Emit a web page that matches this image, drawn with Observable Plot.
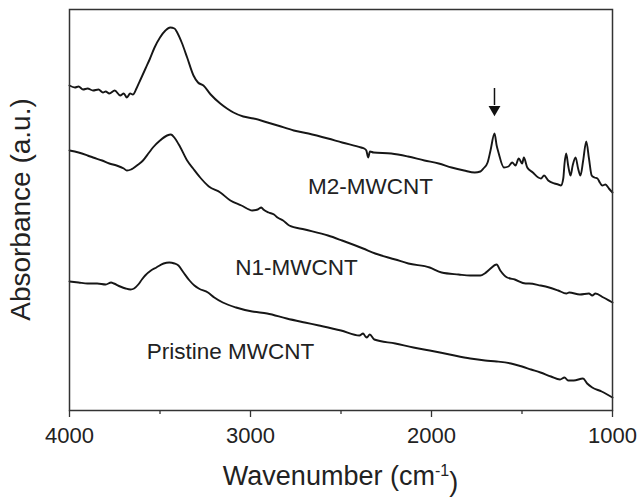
<!DOCTYPE html>
<html>
<head>
<meta charset="utf-8">
<script src="https://cdn.jsdelivr.net/npm/d3@7"></script>
<script src="https://cdn.jsdelivr.net/npm/@observablehq/plot@0.6"></script>
<style>
  html, body { margin: 0; padding: 0; background: #fff; }
  #chart { width: 640px; height: 498px; }
</style>
</head>
<body>
<div id="chart"></div>
<script>
// Series names
const seriesNames = ["M2-MWCNT", "N1-MWCNT", "Pristine MWCNT"];

// M2-MWCNT (wavenumber, absorbance a.u.)
const wnM2 = [4000,3970,3950,3925,3900,3870,3840,3815,3800,3780,3750,3720,3700,3683,3665,3650,3630,3610,3580,3555,3530,3500,3470,3444,3420,3405,3380,3350,3315,3290,3260,3220,3167,3130,3094,3040,2983,2906,2850,2761,2680,2572,2494,2389,2372,2360,2350,2340,2320,2222,2130,2039,1960,1889,1820,1761,1730,1713,1690,1674,1652,1640,1630,1600,1575,1554,1536,1518,1499,1490,1471,1440,1410,1395,1378,1355,1320,1300,1285,1272,1265,1256,1245,1232,1220,1204,1190,1177,1162,1145,1130,1115,1100,1083,1070,1056,1039,1020,1000];
const absM2 = [325,323,324,321,322,320,321,318,319,317,320,315,317,313,317,316,322,330,342,352,363,373,380,383,382,378,368,353,335,328,325,316,307,302,298,294,292,288,285,280,277,272,268,263,262,260,253,259,258,257,254,250,247,243,240,238,239,242,248,260,277,265,258,243,244,248,245,252,247,253,243,238,233,232,235,230,227,226,225,232,247,257,245,235,245,253,242,235,250,269,252,235,233,232,228,225,226,222,218];

// N1-MWCNT
const wnN1 = [4000,3950,3900,3870,3820,3780,3740,3700,3683,3660,3650,3620,3594,3560,3539,3500,3461,3440,3417,3390,3350,3317,3278,3230,3167,3111,3050,2990,2960,2940,2929,2900,2870,2851,2820,2786,2700,2572,2494,2378,2311,2200,2128,2010,1944,1850,1786,1730,1706,1680,1640,1620,1582,1540,1480,1461,1398,1350,1300,1255,1239,1180,1130,1112,1094,1050,1010,1000];
const absN1 = [260,258,255,253,250,247,245,242,240,241,242,246,250,258,263,270,275,276,272,264,250,242,233,224,218,210,205,200,201,203,201,198,196,193,190,185,181,175,170,162,157,151,147,143,138,136,135,135,137,141,146,140,133,131,127,127,125,123,120,117,118,116,117,115,117,113,109,108];

// Pristine MWCNT
const wnPristine = [4000,3950,3900,3847,3800,3770,3755,3720,3690,3663,3643,3620,3600,3582,3550,3520,3480,3449,3420,3398,3370,3337,3310,3286,3235,3200,3153,3080,2990,2908,2800,2700,2622,2500,2398,2378,2365,2357,2341,2316,2200,2100,2010,1900,1786,1704,1640,1561,1500,1450,1398,1340,1290,1265,1245,1214,1163,1140,1112,1060,1010,1000];
const absPristine = [129,128,127,127,126,128,127,124,122,121,122,126,131,135,140,143,147,148,147,145,138,130,125,122,118,113,108,103,99,97,92,88,85,80,75,77,74,73,76,71,67,63,60,56,52,50,49,47,44,41,38,34,31,33,30,30,32,27,23,19,14,13];

// Tick values
const majorTicks = [4000, 3000, 2000, 1000];
const minorTicks = [3500, 2500, 1500];

// Series labels (position in data units)
const labelText = ["M2-MWCNT", "N1-MWCNT", "Pristine MWCNT"];
const labelWn = [2337, 2746, 3110];
const labelAbs = [217, 136, 52];

// Arrow marking the peak near 1650 cm-1
const arrowWn = [1652];
const arrowTop = [322];
const arrowBottom = [305];
const arrowHead = [301];

const rows = [];
wnM2.forEach((w, i) => rows.push({series: seriesNames[0], wn: w, abs: absM2[i]}));
wnN1.forEach((w, i) => rows.push({series: seriesNames[1], wn: w, abs: absN1[i]}));
wnPristine.forEach((w, i) => rows.push({series: seriesNames[2], wn: w, abs: absPristine[i]}));

const labels = labelText.map((t, i) => ({text: t, wn: labelWn[i], abs: labelAbs[i]}));
const arrows = arrowWn.map((w, i) => ({wn: w, top: arrowTop[i], bottom: arrowBottom[i], head: arrowHead[i]}));

const font = "'Liberation Sans', Arial, Helvetica, sans-serif";

const chart = Plot.plot({
  width: 640,
  height: 498,
  marginLeft: 69,
  marginRight: 28,
  marginTop: 9,
  marginBottom: 88,
  style: {fontFamily: font, fontSize: "22px", color: "#222", background: "white"},
  x: {domain: [4000, 1000], label: null},
  y: {domain: [0, 401], axis: null},
  marks: [
    Plot.axisX({ticks: majorTicks, tickSize: 7, tickPadding: 10, tickFormat: d => String(d), label: null, stroke: "#333", strokeWidth: 1.3, fill: "#222"}),
    Plot.axisX({ticks: minorTicks, tickSize: 4, text: null, label: null, stroke: "#333", strokeWidth: 1.3}),
    Plot.line(rows, {x: "wn", y: "abs", z: "series", curve: "monotone-x", stroke: "#161616", strokeWidth: 1.9, strokeLinejoin: "round"}),
    Plot.text(labels, {x: "wn", y: "abs", text: "text", fontSize: 22.5, lineAnchor: "bottom", fill: "#222"}),
    Plot.ruleX(arrows, {x: "wn", y1: "bottom", y2: "top", stroke: "#111", strokeWidth: 1.5}),
    Plot.dot(arrows, {x: "wn", y: "head", symbol: "triangle", rotate: 180, r: 4.4, fill: "#111", stroke: "none"}),
    Plot.frame({stroke: "#333", strokeWidth: 1.5})
  ]
});

// Axis titles
const xs = chart.scale("x").range;
const ys = chart.scale("y").range;
const svg = d3.select(chart);
const xt = svg.append("text")
  .attr("x", (xs[0] + xs[1]) / 2)
  .attr("y", 498 - 13)
  .attr("text-anchor", "middle")
  .style("font-family", font)
  .style("font-size", "27px")
  .attr("fill", "#222");
xt.append("tspan").text("Wavenumber (cm");
xt.append("tspan").attr("dy", "-0.55em").style("font-size", "16px").text("-1");
xt.append("tspan").attr("dy", "0.55em").text(")");

svg.append("text")
  .attr("transform", `translate(30,${(ys[0] + ys[1]) / 2}) rotate(-90)`)
  .attr("text-anchor", "middle")
  .style("font-family", font)
  .style("font-size", "28px")
  .attr("fill", "#222")
  .text("Absorbance (a.u.)");

document.getElementById("chart").appendChild(chart);
</script>
</body>
</html>
